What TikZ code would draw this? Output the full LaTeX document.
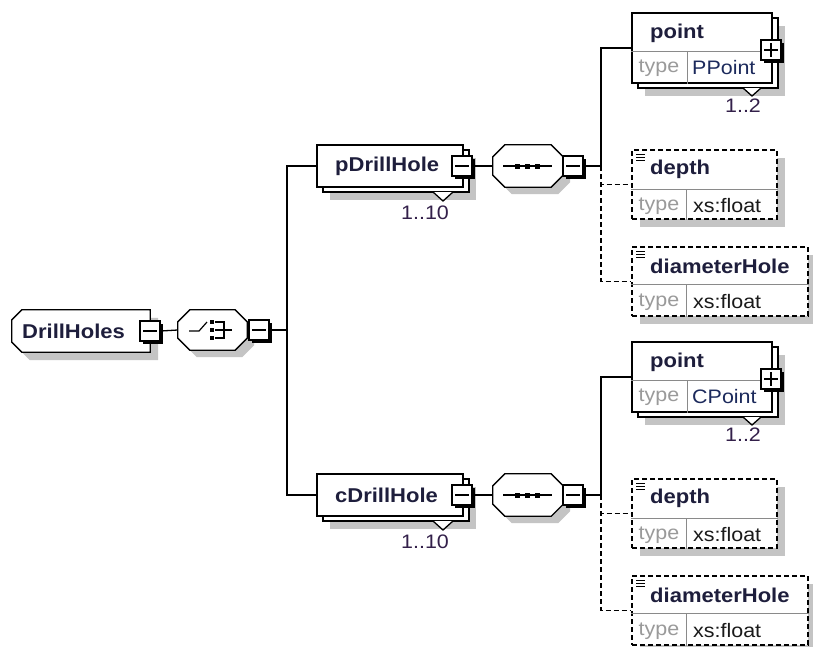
\documentclass[tikz,border=0pt]{standalone}
\usepackage{fontspec}
\setmainfont[FakeStretch=1.1]{Liberation Sans}
\usetikzlibrary{shadows}
\definecolor{shgrey}{HTML}{C4C4C4}
\definecolor{nmcol}{HTML}{1E1E3C}
\definecolor{tycol}{HTML}{9A9A9A}
\definecolor{valcol}{HTML}{1A1A1A}
\definecolor{ptcol}{HTML}{1C2A5C}
\definecolor{occol}{HTML}{33204A}
\definecolor{divcol}{HTML}{8A8A8A}

% octagon-like outline around a named node: #1 node, #2 west chamfer, #3 east chamfer
\newcommand\octpath[3]{([xshift=#2]#1.north west) -- ([xshift=-#3]#1.north east) -- ([yshift=-#3]#1.north east) -- ([yshift=#3]#1.south east) -- ([xshift=-#3]#1.south east) -- ([xshift=#2]#1.south west) -- ([yshift=#2]#1.south west) -- ([yshift=-#2]#1.north west) -- cycle}

\tikzset{
  ln/.style={line width=1.3pt},
  dsh/.style={line width=1.3pt, dash pattern=on 5pt off 3pt},
  ebox/.style={draw, line width=1.3pt, fill=white, rectangle, inner sep=0pt,
    general shadow={fill=shgrey, shadow xshift=8pt, shadow yshift=-8pt}},
  mbox/.style={draw, line width=1.3pt, fill=white, rectangle, inner sep=0pt,
    general shadow={fill=shgrey, shadow xshift=13pt, shadow yshift=-13pt},
    general shadow={fill=white, draw=black, line width=1.3pt, shadow xshift=6pt, shadow yshift=-5pt}},
  obox/.style={ebox, dash pattern=on 5pt off 3pt},
  ghost/.style={rectangle, inner sep=0pt},
  btn/.style={draw, fill=white, line width=1.2pt, minimum size=20pt, inner sep=0pt,
    general shadow={fill=black, shadow xshift=3pt, shadow yshift=-3pt}},
  minusbtn/.style={btn, path picture={\draw[line width=1.3pt] ([xshift=3pt]path picture bounding box.west) -- ([xshift=-3pt]path picture bounding box.east);}},
  plusbtn/.style={btn, path picture={\draw[line width=1.3pt] ([xshift=3pt]path picture bounding box.west) -- ([xshift=-3pt]path picture bounding box.east) ([yshift=-3pt]path picture bounding box.north) -- ([yshift=3pt]path picture bounding box.south);}},
  nm/.style={inner sep=0pt, anchor=west, font=\fontsize{20}{20}\selectfont\bfseries, text=nmcol},
  ty/.style={inner sep=0pt, font=\fontsize{19.5}{19.5}\selectfont, text=tycol},
  val/.style={inner sep=0pt, anchor=west, font=\fontsize{19.5}{19.5}\selectfont, text=valcol},
  occ/.style={inner sep=0pt, font=\fontsize{19.5}{19.5}\selectfont, text=occol},
  divl/.style={draw=divcol, line width=1pt},
  docicon/.style={line width=1pt},
}

\newcommand\subtree[2]{%
  % element (multi occurrence)
  \node[mbox, minimum width=146pt, minimum height=42pt] (pd) at (390,166) {};
  \node[nm] (pdt) at (335,166) {#1};
  \draw[ln, fill=white] (433,192) -- (443,201) -- (453,192);
  \node[minusbtn] (pdb) at (462,166) {};
  \node[occ] (pdo) at (425,213) {1..10};
  % sequence compositor
  \node[ghost, minimum width=70pt, minimum height=42pt] (sq) at (528,166) {};
  \fill[shgrey, transform canvas={xshift=7pt,yshift=-7pt}] \octpath{sq}{12pt}{12pt};
  \draw[ln, fill=white] \octpath{sq}{12pt}{12pt};
  \draw[line width=1.2pt] (503,166) -- (552,166);
  \fill (514.5,163.5) rectangle (519.5,168.5);
  \fill (524.5,163.5) rectangle (529.5,168.5);
  \fill (534.5,163.5) rectangle (539.5,168.5);
  \node[minusbtn] (sqb) at (573,166) {};
  % point
  \node[mbox, minimum width=140pt, minimum height=70pt] (pt) at (702,48) {};
  \draw[divl] ([yshift=-39pt]pt.north west) -- ([yshift=-39pt]pt.north east);
  \draw[divl] ([xshift=56pt,yshift=-39pt]pt.north west) -- ([xshift=56pt]pt.south west);
  \node[nm] (ptn) at (650,33) {point};
  \node[ty] (ptty) at (659,68) {type};
  \node[val, text=ptcol] (ptv) at (692,68) {#2};
  \draw[ln, fill=white] (743,88) -- (752,96) -- (761,88);
  \node[plusbtn] (ptb) at (771,50) {};
  \node[occ] (pto) at (743,106) {1..2};
  % depth
  \node[obox, minimum width=145pt, minimum height=69pt] (dp) at (704.5,184.5) {};
  \draw[divl] ([yshift=-40pt]dp.north west) -- ([yshift=-40pt]dp.north east);
  \draw[divl] ([xshift=55pt,yshift=-40pt]dp.north west) -- ([xshift=55pt]dp.south west);
  \draw[docicon] (636,154) -- (645,154) (636,157) -- (645,157) (636,160) -- (645,160);
  \node[nm] (dpn) at (650,169) {depth};
  \node[ty] (dpty) at (659,206) {type};
  \node[val] (dpv) at (693,206) {xs:float};
  % diameterHole
  \node[obox, minimum width=176pt, minimum height=69pt] (dm) at (720,281.5) {};
  \draw[divl] ([yshift=-38pt]dm.north west) -- ([yshift=-38pt]dm.north east);
  \draw[divl] ([xshift=55pt,yshift=-38pt]dm.north west) -- ([xshift=55pt]dm.south west);
  \draw[docicon] (636,251) -- (645,251) (636,254) -- (645,254) (636,257) -- (645,257);
  \node[nm] (dmn) at (650,266) {diameterHole};
  \node[ty] (dmty) at (659,302) {type};
  \node[val] (dmv) at (693,302) {xs:float};
  % connectors
  \coordinate (jB) at (601,166);
  \draw[ln] (pdb.east) -- (sq.west);
  \draw[ln] (sqb.east) -- (jB);
  \draw[ln] (jB) |- (pt.west);
  \draw[dsh] (jB) |- (dp.west);
  \draw[dsh] (jB) |- (dm.west);
}

\begin{document}
\begin{tikzpicture}[x=1pt, y=-1pt]
  \fill[white] (0,0) rectangle (813,646);
  \useasboundingbox (0,0) rectangle (813,646);
  % root element
  \node[ghost, minimum width=138pt, minimum height=42pt] (dh) at (81,331) {};
  \fill[shgrey, transform canvas={xshift=8pt,yshift=-8pt}] \octpath{dh}{10pt}{0pt};
  \draw[ln, fill=white] \octpath{dh}{10pt}{0pt};
  \node[nm] (dht) at (22,331) {DrillHoles};
  \node[minusbtn] (dhb) at (150,331) {};
  % choice compositor
  \node[ghost, minimum width=69pt, minimum height=40pt] (ch) at (212.5,330) {};
  \fill[shgrey, transform canvas={xshift=7pt,yshift=-7pt}] \octpath{ch}{12pt}{12pt};
  \draw[ln, fill=white] \octpath{ch}{12pt}{12pt};
  \draw[line width=1.2pt] (189,331) -- (199,331) -- (207,322);
  \fill (210,320) rectangle (214,324);
  \fill (210,328) rectangle (214,332);
  \fill (210,336) rectangle (214,340);
  \draw[line width=1.2pt] (215,322) -- (224,322) -- (224,338) -- (215,338) (215,330) -- (232,330);
  \node[minusbtn] (chb) at (259,330) {};
  \coordinate (jA) at (287,330);
  \draw[ln] (dhb.east) -- (ch.west);
  \draw[ln] (chb.east) -- (jA);
  \begin{scope}[name prefix=p-]
    \subtree{pDrillHole}{PPoint}
  \end{scope}
  \begin{scope}[name prefix=c-, yshift=-329pt]
    \subtree{cDrillHole}{CPoint}
  \end{scope}
  \draw[ln] (p-pd.west) -| (jA) |- (c-pd.west);
\end{tikzpicture}
\end{document}
